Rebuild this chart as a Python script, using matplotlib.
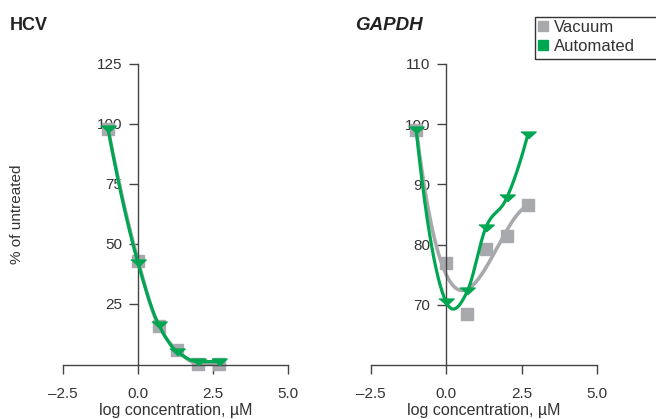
import numpy as np
import matplotlib
matplotlib.use("Agg")
import matplotlib.pyplot as plt
from matplotlib.lines import Line2D
from matplotlib.patches import Rectangle

plt.rcParams['font.family'] = ['Liberation Sans', 'DejaVu Sans']

# ---- data ----
log_conc = [-1.0, 0.0, 0.7, 1.3, 2.0, 2.7]
hcv_vacuum = [98, 43, 15.5, 5.5, 0, 0]
hcv_automated = [98, 42, 16, 5, 0.8, 0.8]
gapdh_vacuum = [99, 77, 68.5, 79.2, 81.5, 86.5]
gapdh_automated = [99, 70.4, 72.3, 82.7, 87.7, 98.2]

series_names = ["Vacuum", "Automated"]
panel_titles = ["HCV", "GAPDH"]
x_ticks = [-2.5, 0.0, 2.5, 5.0]
x_ticklabels = ["\u20132.5", "0.0", "2.5", "5.0"]
hcv_yticks = [25, 50, 75, 100, 125]
gapdh_yticks = [70, 80, 90, 100, 110]

GREEN = "#00A651"
GRAY = "#A7A9AC"
AX_COL = "#444444"
TXT = "#333333"


def hermite_curve(x, y, xs, monotone=True):
    x = np.asarray(x, float); y = np.asarray(y, float)
    h = np.diff(x); d = np.diff(y) / h
    n = len(x)
    m = np.zeros(n)
    for i in range(1, n - 1):
        if monotone:
            if d[i - 1] * d[i] <= 0:
                m[i] = 0
            else:
                w1 = 2 * h[i] + h[i - 1]; w2 = h[i] + 2 * h[i - 1]
                m[i] = (w1 + w2) / (w1 / d[i - 1] + w2 / d[i])
        else:
            m[i] = (h[i] * d[i - 1] + h[i - 1] * d[i]) / (h[i - 1] + h[i])

    def edge(h0, h1, d0, d1):
        v = ((2 * h0 + h1) * d0 - h0 * d1) / (h0 + h1)
        if np.sign(v) != np.sign(d0):
            return 0.0
        if np.sign(d0) != np.sign(d1) and abs(v) > 3 * abs(d0):
            return 3 * d0
        return v
    m[0] = edge(h[0], h[1], d[0], d[1])
    m[-1] = edge(h[-1], h[-2], d[-1], d[-2])
    out = np.empty_like(xs)
    for k, xv in enumerate(xs):
        i = min(max(np.searchsorted(x, xv) - 1, 0), n - 2)
        t = (xv - x[i]) / h[i]
        h00 = 2 * t**3 - 3 * t**2 + 1; h10 = t**3 - 2 * t**2 + t
        h01 = -2 * t**3 + 3 * t**2; h11 = t**3 - t**2
        out[k] = h00 * y[i] + h10 * h[i] * m[i] + h01 * y[i + 1] + h11 * h[i] * m[i + 1]
    return out


fig = plt.figure(figsize=(6.56, 4.19), dpi=100)
ax1 = fig.add_axes([63 / 656, 1 - 365 / 419, 225 / 656, 301 / 419])
ax2 = fig.add_axes([371 / 656, 1 - 365 / 419, 226 / 656, 301 / 419])

tri = [(-1, 0.45), (1, 0.45), (0, -0.45)]
xs = np.linspace(log_conc[0], log_conc[-1], 400)

# HCV
ax1.plot(xs, hermite_curve(log_conc, hcv_vacuum, xs), color=GRAY, lw=2.6, zorder=2, clip_on=False)
ax1.plot(log_conc, hcv_vacuum, ls='none', marker='s', ms=8.5, color=GRAY, zorder=2, clip_on=False)
ax1.plot(xs, hermite_curve(log_conc, hcv_automated, xs), color=GREEN, lw=2.3, zorder=3, clip_on=False)
ax1.plot(log_conc, hcv_automated, ls='none', marker=tri, ms=11, color=GREEN, zorder=3, clip_on=False)

# GAPDH
gv_fit = np.polyval(np.polyfit(log_conc, gapdh_vacuum, 3), xs)
ga_fit = hermite_curve(log_conc, gapdh_automated, xs, monotone=False)
ax2.plot(xs, gv_fit, color=GRAY, lw=2.6, zorder=2, clip_on=False)
ax2.plot(log_conc, gapdh_vacuum, ls='none', marker='s', ms=8.5, color=GRAY, zorder=2, clip_on=False)
ax2.plot(xs, ga_fit, color=GREEN, lw=2.3, zorder=3, clip_on=False)
ax2.plot(log_conc, gapdh_automated, ls='none', marker=tri, ms=11, color=GREEN, zorder=3, clip_on=False)

for ax, yt, ylim in [(ax1, hcv_yticks, (-0.6, 125)), (ax2, gapdh_yticks, (60, 110))]:
    ax.set_xlim(-2.5, 5.0)
    ax.set_ylim(*ylim)
    ax.set_xticks(x_ticks)
    ax.set_xticklabels(x_ticklabels)
    ax.set_yticks(yt)
    ax.spines['left'].set_position(('data', 0))
    ax.spines['left'].set_bounds(ylim[0], yt[-1])
    for s in ['top', 'right']:
        ax.spines[s].set_visible(False)
    for s in ['left', 'bottom']:
        ax.spines[s].set_color(AX_COL)
        ax.spines[s].set_linewidth(1.0)
    ax.tick_params(direction='out', length=6.5, width=1.0, color=AX_COL,
                   labelsize=11, labelcolor=TXT)
    ax.tick_params(axis='x', pad=9)
    ax.tick_params(axis='y', pad=5)
    ax.set_xlabel("log concentration, \u00b5M", fontsize=11.5, color=TXT, labelpad=2)
    ax.patch.set_visible(False)

fig.text(10 / 656, 1 - 25 / 419, panel_titles[0], fontsize=13, fontweight='bold',
         color="#222222", va='center', ha='left')
fig.text(355 / 656, 1 - 25 / 419, panel_titles[1], fontsize=13.5, fontweight='bold',
         style='italic', color="#222222", va='center', ha='left')
fig.text(17 / 656, 1 - 214 / 419, "% of untreated", rotation=90, fontsize=11,
         color=TXT, va='center', ha='center')

handles = [Line2D([], [], ls='none', marker='s', ms=6.5, color=GRAY),
           Line2D([], [], ls='none', marker='s', ms=6.5, color=GREEN)]
leg = fig.legend(handles, series_names, loc='upper left',
                 bbox_to_anchor=(535 / 656, 1 - 17 / 419), frameon=False,
                 fontsize=12, handlelength=0.6, handletextpad=0.35,
                 borderpad=0.2, labelspacing=0.2, borderaxespad=0)
for t in leg.get_texts():
    t.set_color(TXT)
fig.add_artist(Rectangle((535 / 656, 1 - 59 / 419), 140 / 656, 42 / 419,
                         transform=fig.transFigure, fill=False,
                         edgecolor="#333333", lw=1.0))

fig.savefig("out.png", dpi=100)
